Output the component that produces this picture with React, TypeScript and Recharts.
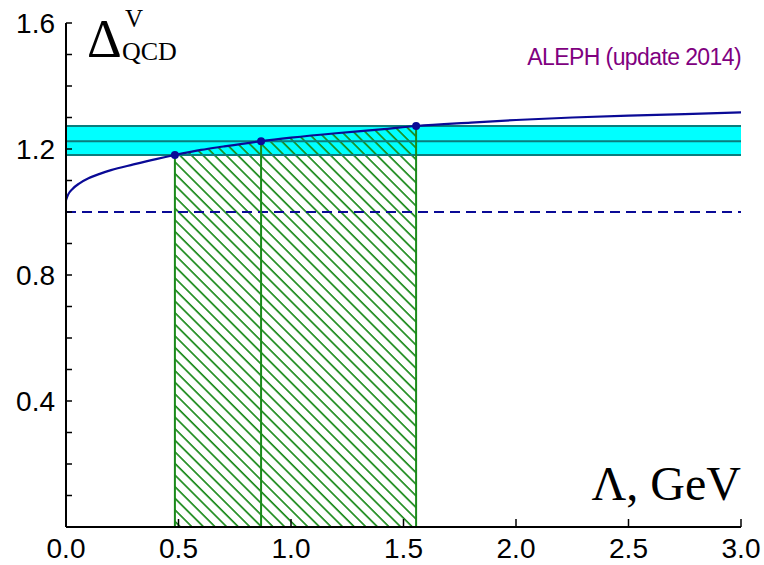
import {
  ComposedChart,
  Line,
  Area,
  Scatter,
  XAxis,
  YAxis,
  ReferenceArea,
  ReferenceLine,
} from 'recharts'

// Delta_QCD^V as a function of Lambda (GeV)
const lambdaX = [0, 0.01, 0.03, 0.06, 0.1, 0.15, 0.2, 0.3, 0.4, 0.484, 0.6, 0.7, 0.867, 1.0, 1.2, 1.4, 1.556, 1.8, 2.0, 2.25, 2.5, 2.75, 3.0]
const deltaY = [1.038, 1.056, 1.074, 1.091, 1.107, 1.121, 1.133, 1.151, 1.168, 1.181, 1.197, 1.208, 1.225, 1.236, 1.25, 1.262, 1.273, 1.284, 1.292, 1.3, 1.306, 1.311, 1.316]

// ALEPH band: lower, central, upper
const bandLow = 1.181
const bandMid = 1.225
const bandHigh = 1.273
const partonLevel = 1.0

// Lambda values where the curve crosses the band
const crossX = [0.484, 0.867, 1.556]
const crossY = [1.181, 1.225, 1.273]

const xMajor = [0, 0.5, 1.0, 1.5, 2.0, 2.5, 3.0]
const xMinor = Array.from({ length: 31 }, (_, i) => +(i * 0.1).toFixed(1))
const yTicks = Array.from({ length: 17 }, (_, i) => +(i * 0.1).toFixed(1))
const yLabels = [0.4, 0.8, 1.2, 1.6]

const curve = lambdaX.map((x, i) => ({ x, y: deltaY[i] }))
const hatch = curve.filter((d) => d.x >= crossX[0] && d.x <= crossX[2])
const points = crossX.map((x, i) => ({ x, y: crossY[i] }))

const NAVY = '#0a0a96'
const GREEN = '#1a8a1a'
const TEAL = '#0b7d7d'

const YTick = ({ x, y, payload }: any) => {
  if (!yLabels.includes(payload.value)) return null
  return (
    <text x={x} y={y} dy={10} textAnchor="end" fontSize={28} fill="#000" fontFamily="Liberation Sans, Arial, sans-serif">
      {payload.value.toFixed(1)}
    </text>
  )
}

const XTick = ({ x, y, payload }: any) => (
  <text x={x} y={y} dy={39} textAnchor="middle" fontSize={28} fill="#000" fontFamily="Liberation Sans, Arial, sans-serif">
    {payload.value.toFixed(1)}
  </text>
)

const Dot = ({ cx, cy }: any) => <circle cx={cx} cy={cy} r={4} fill={NAVY} />

export default function App() {
  return (
    <div style={{ position: 'fixed', left: 0, top: 0, width: 764, height: 565, background: '#fff' }}>
      <ComposedChart width={764} height={565} margin={{ top: 23, right: 23, bottom: 8, left: 6 }}>
        <defs>
          <pattern id="hatch" patternUnits="userSpaceOnUse" width={8.2} height={8.2} patternTransform="rotate(-45)">
            <line x1={1} y1={0} x2={1} y2={8.2} stroke={GREEN} strokeWidth={1.7} />
          </pattern>
        </defs>
        <XAxis
          xAxisId="minor"
          type="number"
          dataKey="x"
          domain={[0, 3]}
          ticks={xMinor}
          interval={0}
          height={0}
          tick={false}
          tickSize={-4}
          axisLine={false}
          tickLine={{ stroke: '#000', strokeWidth: 1.5 }}
          allowDataOverflow
        />
        <XAxis
          xAxisId="main"
          type="number"
          dataKey="x"
          domain={[0, 3]}
          ticks={xMajor}
          interval={0}
          height={30}
          tickSize={-8}
          tickMargin={0}
          tick={<XTick />}
          axisLine={{ stroke: '#000', strokeWidth: 2 }}
          tickLine={{ stroke: '#000', strokeWidth: 1.5 }}
          allowDataOverflow
        />
        <YAxis
          type="number"
          domain={[0, 1.6]}
          ticks={yTicks}
          interval={0}
          width={60}
          tickSize={-6}
          tickMargin={17}
          tick={<YTick />}
          axisLine={{ stroke: '#000', strokeWidth: 2 }}
          tickLine={{ stroke: '#000', strokeWidth: 1.5 }}
          allowDataOverflow
        />
        <ReferenceArea xAxisId="main" y1={bandLow} y2={bandHigh} fill="#00ffff" fillOpacity={1} stroke="none" />
        <Area
          xAxisId="main"
          data={hatch}
          dataKey="y"
          type="monotone"
          baseValue={0}
          stroke="none"
          fill="url(#hatch)"
          fillOpacity={1}
          isAnimationActive={false}
        />
        <ReferenceLine xAxisId="main" y={bandLow} stroke={TEAL} strokeWidth={2} />
        <ReferenceLine xAxisId="main" y={bandMid} stroke={TEAL} strokeWidth={2} />
        <ReferenceLine xAxisId="main" y={bandHigh} stroke={TEAL} strokeWidth={2} />
        <ReferenceLine xAxisId="main" y={partonLevel} stroke={NAVY} strokeWidth={2} strokeDasharray="10 6" />
        {points.map((p) => (
          <ReferenceLine
            key={p.x}
            xAxisId="main"
            segment={[{ x: p.x, y: 0 }, { x: p.x, y: p.y }]}
            stroke={GREEN}
            strokeWidth={2}
          />
        ))}
        <Line
          xAxisId="main"
          data={curve}
          dataKey="y"
          type="monotone"
          stroke={NAVY}
          strokeWidth={2.2}
          dot={false}
          activeDot={false}
          isAnimationActive={false}
        />
        <Scatter xAxisId="main" data={points} dataKey="y" shape={<Dot />} isAnimationActive={false} />
      </ComposedChart>
      <svg width={764} height={565} style={{ position: 'absolute', left: 0, top: 0, pointerEvents: 'none' }}>
        <g fontFamily="Liberation Serif, Times New Roman, serif" fill="#000">
          <text x={87} y={57} fontSize={54}>Δ</text>
          <text x={125} y={27} fontSize={25}>V</text>
          <text x={122} y={60} fontSize={26}>QCD</text>
          <text x={741} y={500} fontSize={48} textAnchor="end">Λ, GeV</text>
        </g>
        <text x={741} y={65} fontSize={23} letterSpacing={-0.6} textAnchor="end" fill="#800080" fontFamily="Liberation Sans, Arial, sans-serif">
          ALEPH (update 2014)
        </text>
      </svg>
    </div>
  )
}
